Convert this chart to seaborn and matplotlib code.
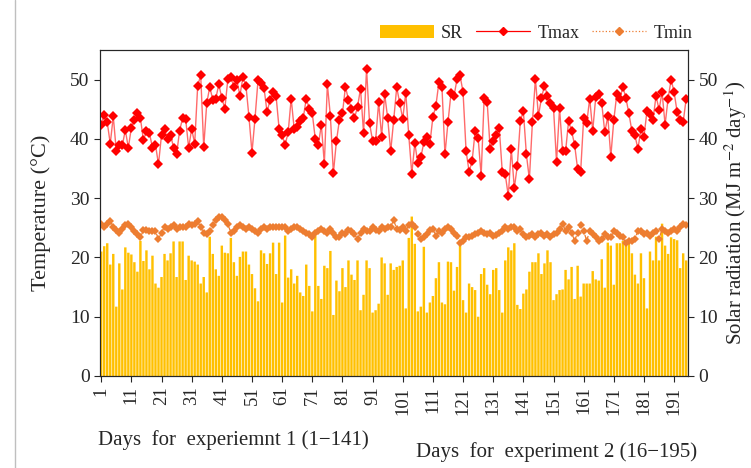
import numpy as np
import matplotlib
matplotlib.use("Agg")
import matplotlib.pyplot as plt
from matplotlib.lines import Line2D
from matplotlib.patches import Patch
import seaborn as sns

# daily weather during the two experiments
days = list(range(1, 196))

tmax = [
    42.4, 44.1, 42.8, 39.2, 43.8, 38.0, 38.9, 38.9, 41.5, 38.5,
    41.9, 43.2, 44.3, 43.5, 39.8, 41.3, 41.0, 38.5, 39.0, 35.7,
    40.7, 41.6, 40.0, 40.7, 38.5, 37.4, 41.4, 43.5, 43.4, 38.5,
    41.7, 39.2, 49.0, 50.7, 38.6, 46.0, 48.8, 46.6, 46.8, 49.2,
    46.9, 45.1, 50.1, 50.4, 48.8, 49.9, 47.3, 50.4, 49.0, 43.7,
    37.7, 43.4, 49.9, 49.4, 48.6, 44.5, 46.6, 47.9, 47.2, 41.7,
    40.6, 39.0, 41.1, 46.8, 41.7, 42.0, 43.1, 43.5, 46.8, 45.1,
    44.3, 40.0, 38.9, 42.4, 35.8, 49.2, 43.9, 34.2, 39.6, 43.2,
    44.3, 48.8, 46.6, 45.1, 43.5, 45.4, 48.5, 41.0, 51.8, 42.6,
    39.7, 39.7, 46.2, 40.4, 47.6, 43.5, 37.9, 43.2, 48.7, 46.0,
    43.4, 47.8, 40.6, 34.1, 39.3, 35.9, 36.9, 39.4, 40.4, 39.2,
    43.7, 45.6, 49.6, 48.8, 37.4, 42.8, 47.7, 47.2, 50.1, 50.7,
    47.9, 38.0, 34.5, 36.2, 41.3, 40.2, 33.8, 46.9, 46.2, 38.3,
    39.7, 40.7, 41.9, 34.5, 34.0, 30.4, 38.3, 31.7, 35.5, 43.0,
    44.7, 37.4, 33.2, 42.8, 50.1, 43.9, 46.9, 49.0, 47.3, 46.0,
    45.2, 36.1, 45.2, 37.9, 37.9, 43.0, 41.3, 39.0, 34.9, 34.5,
    43.5, 42.6, 46.8, 41.4, 47.0, 47.5, 46.0, 41.1, 43.8, 37.0,
    43.2, 47.6, 46.8, 48.8, 46.9, 44.3, 41.3, 40.6, 38.3, 41.7,
    40.4, 44.7, 44.2, 43.2, 47.3, 44.9, 47.9, 42.4, 46.8, 50.0,
    47.9, 44.5, 43.2, 42.8, 46.8,
]

tmin = [
    25.6, 25.2, 25.6, 26.1, 25.2, 24.6, 24.2, 24.8, 25.4, 25.6,
    25.2, 24.4, 23.9, 23.4, 24.6, 24.6, 24.5, 24.5, 24.4, 23.1,
    24.2, 25.2, 24.8, 25.1, 25.4, 24.8, 25.2, 25.1, 25.2, 25.7,
    25.4, 25.6, 26.1, 25.1, 24.2, 23.9, 24.5, 25.4, 26.3, 26.9,
    26.9, 26.3, 25.6, 24.2, 24.5, 25.1, 25.4, 25.1, 24.8, 25.2,
    24.8, 24.4, 24.2, 24.8, 25.2, 24.8, 25.1, 25.2, 25.1, 25.1,
    25.1, 25.2, 24.5, 24.8, 25.1, 25.2, 24.8, 24.4, 24.2, 23.9,
    23.5, 24.2, 24.5, 24.8, 24.4, 24.2, 24.8, 24.2, 23.4, 23.4,
    24.2, 23.9, 24.6, 24.4, 23.9, 23.1, 24.2, 24.8, 24.5, 24.4,
    25.2, 24.6, 24.4, 25.1, 24.8, 25.1, 25.2, 26.3, 24.8, 24.6,
    25.1, 24.5, 25.4, 25.7, 25.1, 23.9, 23.1, 23.5, 24.0, 24.6,
    24.8, 23.7, 24.4, 24.2, 24.8, 25.2, 24.8, 24.2, 23.7, 22.5,
    22.8, 23.4, 23.5, 23.7, 23.9, 24.1, 24.5, 24.2, 23.9, 24.1,
    23.7, 23.8, 24.2, 24.5, 25.1, 24.8, 25.2, 25.1, 24.5, 24.8,
    23.9, 23.5, 23.7, 23.9, 23.5, 23.9, 24.1, 23.7, 23.9, 23.5,
    23.9, 24.2, 24.8, 25.7, 24.5, 25.1, 24.2, 22.8, 24.2, 25.4,
    24.5, 22.8, 24.5, 23.9, 23.4, 22.8, 23.1, 23.9, 23.4, 23.4,
    24.5, 24.2, 23.7, 23.4, 22.4, 22.8, 22.8, 23.1, 24.5, 24.4,
    23.9, 24.2, 23.7, 24.1, 24.5, 23.1, 24.8, 24.5, 24.2, 24.5,
    24.8, 24.5, 25.1, 25.6, 25.4,
]

sr = [
    21.0, 21.9, 22.4, 18.8, 20.6, 11.7, 19.0, 14.6, 21.7, 20.8,
    20.5, 19.2, 17.6, 22.8, 19.4, 21.2, 18.0, 20.3, 15.6, 14.9,
    16.7, 20.6, 19.5, 20.7, 22.7, 16.7, 22.7, 22.7, 16.2, 20.3,
    19.5, 19.3,
    18.8, 15.6, 16.7, 14.1, 23.5, 20.6, 18.0, 16.9, 22.0, 20.8,
    20.7, 23.3, 19.2, 16.9, 20.1, 21.0, 21.0, 18.8, 17.2, 14.8,
    12.6, 21.2, 20.7, 18.9, 20.7, 22.5, 17.2, 22.5, 12.4, 23.7,
    16.6,
    18.0, 15.6, 16.9, 14.1, 13.5, 18.8, 15.2, 10.9, 23.7, 15.2,
    13.0, 18.6, 18.2, 21.1, 10.3, 16.1, 14.3, 18.2, 15.0, 19.5,
    17.1, 16.2, 19.5, 11.1, 13.7, 19.5, 18.2, 10.7, 11.1, 12.2,
    20.0,
    19.0, 13.7, 19.0, 17.9, 18.4, 18.6, 19.5, 11.4, 23.3, 26.9,
    22.3, 10.9, 11.7, 21.8, 10.7, 12.4, 13.5, 16.5, 19.2, 12.4,
    12.1, 19.3, 19.2, 14.4, 18.4, 22.9, 12.8, 10.7, 15.6, 15.0,
    14.5,
    10.0, 17.2, 18.2, 15.4, 13.8, 17.9, 18.2, 14.5, 10.7, 19.5,
    21.7, 21.2, 22.4, 12.0, 11.3, 13.9, 14.6, 17.6, 19.2, 19.2,
    20.7, 17.2, 19.0, 21.2, 19.2, 12.8, 13.8, 14.5, 14.6, 17.9,
    16.3, 18.4,
    13.0, 18.6, 13.4, 15.6, 15.6, 15.6, 17.7, 16.3, 16.1, 19.7,
    14.9, 22.5, 22.0, 15.4, 22.4, 22.4, 22.8, 22.0, 22.5, 20.7,
    17.1, 15.6, 20.7, 16.5, 11.4, 21.0, 19.5, 23.5, 19.5, 25.7,
    22.0, 20.6, 23.4, 23.1, 22.9, 18.2, 20.7, 19.5,
]

tick_days = list(range(1, 192, 10))

sns.set_style("ticks")
plt.rcParams['font.family'] = ['Liberation Serif', 'DejaVu Serif']
plt.rcParams['mathtext.fontset'] = 'stix'

fig = plt.figure(figsize=(7.51, 4.68), dpi=100)
ax = fig.add_axes([100 / 751, 92 / 468, 588 / 751, 326 / 468])

sns.barplot(x=days, y=sr, native_scale=True, color='#FFC000', saturation=1,
            width=0.8, linewidth=0, edgecolor='none', ax=ax, zorder=1)
# no pixel snapping, so all bars come out the same width
for p in ax.patches:
    p.set_snap(False)
sns.lineplot(x=days, y=tmin, ax=ax, color='#ED7D31', linestyle='--', linewidth=0.9,
             marker='D', markersize=4.5, markeredgewidth=0, zorder=3)
sns.lineplot(x=days, y=tmax, ax=ax, color=(1.0, 0.1, 0.1, 0.65), linewidth=1.0,
             marker='D', markersize=5, markeredgewidth=0,
             markerfacecolor='#FF0000', zorder=4)

ax.set_xlim(0.6, 195.6)
ax.set_ylim(0, 55)
ax.set_yticks(range(0, 51, 10))
ax.set_xticks(tick_days)
ax.set_xticklabels([str(d) for d in tick_days], rotation=90, fontsize=13.5)
ax.tick_params(axis='y', labelsize=14, direction='out', length=4)
ax.tick_params(axis='x', direction='out', length=4)
ax.set_xlabel('')
ax.set_ylabel('Temperature (°C)', fontsize=16, labelpad=14)
for s in ax.spines.values():
    s.set_linewidth(0.8)

ax2 = ax.twinx()
ax2.set_ylim(0, 55)
ax2.set_yticks(range(0, 51, 10))
ax2.tick_params(axis='y', labelsize=14, direction='out', length=4)
ax2.set_ylabel('Solar radiation (MJ m$^{-2}$ day$^{-1}$)', fontsize=15, labelpad=3)
for s in ax2.spines.values():
    s.set_linewidth(0.8)

handles = [
    Patch(facecolor='#FFC000', edgecolor='none'),
    Line2D([], [], color='#FF0000', linewidth=0.9, marker='D', markersize=4),
    Line2D([], [], color='#ED7D31', linewidth=0.9, linestyle=':', marker='D', markersize=4),
]
fig.legend(handles, ['SR', 'Tmax', 'Tmin'], ncol=3, frameon=False, fontsize=13,
           loc='center', bbox_to_anchor=(536 / 751, 1 - 33 / 468),
           handlelength=3.0, columnspacing=0.7, handletextpad=0.4)

fig.text(233 / 751, 1 - 440 / 468, 'Days  for  experiemnt 1 (1\u2212141)',
         fontsize=15, ha='center', va='center')
fig.text(557 / 751, 1 - 452 / 468, 'Days  for  experiment 2 (16\u2212195)',
         fontsize=15, ha='center', va='center')

# grey panel border on the left
fig.add_artist(Line2D([15 / 751, 15 / 751], [0, 1], color='#BFBFBF', linewidth=1))

fig.savefig('out.png', dpi=100)
